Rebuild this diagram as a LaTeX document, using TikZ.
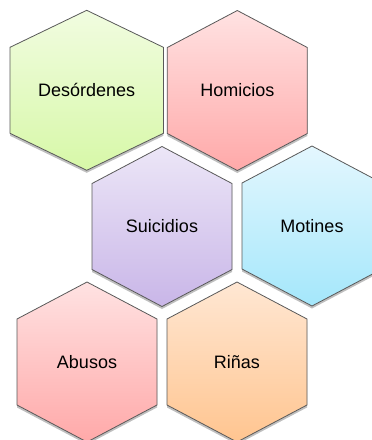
\documentclass[tikz,border=0pt]{standalone}
\usepackage{fontspec}
\setmainfont{Liberation Sans}
\usetikzlibrary{shadows}

\definecolor{greenTop}{HTML}{F1FCE0}
\definecolor{greenBot}{HTML}{D7F8A8}
\definecolor{redTop}{HTML}{FFE2E2}
\definecolor{redBot}{HTML}{FFA9A9}
\definecolor{lilacTop}{HTML}{ECE6F7}
\definecolor{lilacBot}{HTML}{C9B6E8}
\definecolor{skyTop}{HTML}{E4F7FE}
\definecolor{skyBot}{HTML}{A4E7FB}
\definecolor{peachTop}{HTML}{FFE7D3}
\definecolor{peachBot}{HTML}{FFC590}

% #1 name, #2 cx, #3 cy, #4 half width, #5 top colour, #6 bottom colour, #7 text
\newcommand{\hexcell}[7]{%
  \path[cell,top color=#5,bottom color=#6]
    ({#2},{#3-80}) -- ({#2+#4},{#3-43}) -- ({#2+#4},{#3+43})
    -- ({#2},{#3+80}) -- ({#2-#4},{#3+43}) -- ({#2-#4},{#3-43}) -- cycle;
  \node (#1) at (#2,#3) {#7};
}

\begin{document}
\begin{tikzpicture}[x=1pt, y=-1pt,
  every node/.style={font=\fontsize{18}{20}\selectfont, text=black},
  cell/.style={draw=black!65, line width=0.8pt,
    drop shadow={shadow xshift=0pt, shadow yshift=-2.5pt, opacity=0.25, fill=black}}]
\useasboundingbox (0,0) rectangle (372,440);
\hexcell{desordenes}{86.7}{90.3}{76.7}{greenTop}{greenBot}{Desórdenes}
\hexcell{homicidios}{237.3}{90.5}{70}{redTop}{redBot}{Homicios}
\hexcell{suicidios}{162}{226.5}{70}{lilacTop}{lilacBot}{Suicidios}
\hexcell{motines}{312}{226}{70}{skyTop}{skyBot}{Motines}
\hexcell{abusos}{87}{362}{70}{redTop}{redBot}{Abusos}
\hexcell{rinas}{237}{362}{70}{peachTop}{peachBot}{Riñas}
\end{tikzpicture}
\end{document}
